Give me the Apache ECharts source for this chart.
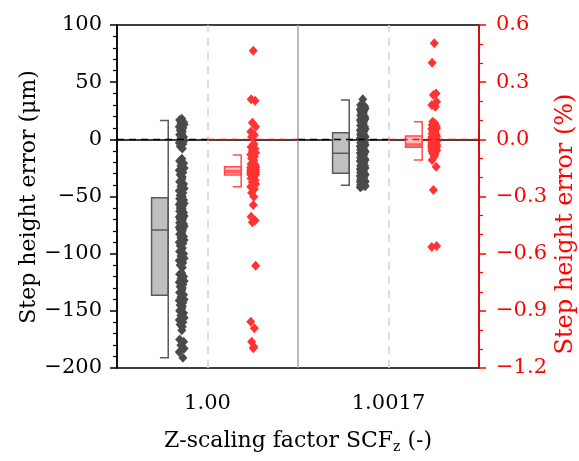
<!DOCTYPE html>
<html>
<head>
<meta charset="utf-8">
<script src="https://cdn.jsdelivr.net/npm/echarts@6/dist/echarts.min.js"></script>
<style>
html, body { margin: 0; padding: 0; background: #fff; }
#chart { width: 579px; height: 461px; }
</style>
</head>
<body>
<div id="chart"></div>
<script>
// categories on the x axis
var categories = ['1.00', '1.0017'];

// box stats: [low whisker, q1, median, q3, high whisker]
var grayBoxUm = [
  [-191, -136.4, -79.3, -51.1, 16.5],
  [-40.1, -29.7, -12.2, 5.8, 34.4]
];
var redBoxPct = [
  [-0.249, -0.187, -0.165, -0.144, -0.082],
  [-0.109, -0.042, -0.025, 0.017, 0.092]
];
var redMeanPct = [-0.175, -0.034];

// individual measurements, step height error in µm
var grayPointsUm = [
  [18, 17, 15, 14, 13, 11, 10, 8, 7, 5, 4, 2, 1, -1, -3, -4, -6, -8,
   -17, -19, -21, -23, -25, -27, -29, -31, -33, -35, -37, -39, -41, -43, -45, -47, -49, -50,
   -51, -52, -53, -55, -56, -57, -58, -60, -61, -62, -63, -64, -66, -67, -68, -69, -70, -71, -72, -73, -74, -75, -76, -77, -78, -79,
   -80, -82, -83, -85, -86, -88, -90, -91, -93, -95, -96, -98, -100, -102, -104, -106, -108, -110, -112,
   -117, -118, -120, -122, -124, -125, -127, -129, -130, -132, -134, -136,
   -138, -140, -141, -143, -145, -146, -148, -150, -152, -154, -156, -158, -160, -162, -164, -167,
   -175, -177, -180, -183, -186, -191],
  [35, 30, 29, 28, 27, 26, 25, 24, 23, 22, 21, 20, 19, 18, 17, 16, 15, 14, 13, 12, 11, 10, 9, 8, 7, 6,
   5, 5, 4, 3, 3, 2, 1, 0, 0, -1, -2, -3, -3, -4, -5, -6, -6, -7, -8, -9, -9, -10, -11, -11, -12,
   -13, -14, -14, -15, -16, -17, -17, -18, -19, -20, -20, -21, -22, -23, -23, -24, -25, -26, -26, -27, -28, -28, -29, -30,
   -31, -31, -32, -33, -33, -34, -35, -35, -36, -36, -37, -37, -38, -38, -39, -39, -40, -40, -41, -41, -42]
];

// individual measurements, step height error in %
var redPointsPct = [
  [0.465, 0.21, 0.203, 0.087, 0.066, 0.04, 0.023, 0.014,
   -0.025, -0.03, -0.04, -0.05, -0.06, -0.07, -0.08, -0.09, -0.1, -0.11, -0.12, -0.13, -0.135, -0.14,
   -0.145, -0.147, -0.149, -0.15, -0.152, -0.154, -0.155, -0.157, -0.158, -0.16, -0.161, -0.163, -0.164, -0.165, -0.166,
   -0.167, -0.169, -0.17, -0.171, -0.173, -0.174, -0.176, -0.177, -0.179, -0.18, -0.181, -0.183, -0.184, -0.185, -0.186,
   -0.19, -0.195, -0.2, -0.205, -0.215, -0.225, -0.235, -0.249, -0.26, -0.28,
   -0.301, -0.345, -0.406, -0.426, -0.435, -0.663, -0.957, -0.992, -1.062, -1.088, -1.097],
  [0.504, 0.402, 0.241, 0.232, 0.197, 0.18, 0.171,
   0.092, 0.085, 0.08, 0.075, 0.07, 0.065, 0.06, 0.055, 0.05, 0.045, 0.04, 0.035, 0.03, 0.025, 0.02,
   0.015, 0.012, 0.008, 0.005, 0.002, 0, -0.003, -0.006, -0.009, -0.012, -0.015, -0.018, -0.021, -0.024,
   -0.026, -0.027, -0.028, -0.029, -0.03, -0.031, -0.032, -0.033, -0.034, -0.035, -0.036, -0.037, -0.038, -0.039, -0.04, -0.041,
   -0.043, -0.046, -0.047, -0.05, -0.052, -0.055, -0.058, -0.06, -0.066, -0.073, -0.08, -0.09, -0.109, -0.144, -0.266, -0.56, -0.565]
];

// tick labels
var leftTicks = [-200, -150, -100, -50, 0, 50, 100];
var rightTicks = [-1.2, -0.9, -0.6, -0.3, 0.0, 0.3, 0.6];

var FONT = 'DejaVu Serif';
var RED = '#ff0000';
// offsets inside a category (in category widths)
var OFF_GRAY_BOX = -0.263, OFF_GRAY_PTS = -0.142, OFF_RED_BOX = 0.14, OFF_RED_PTS = 0.253;
var BOX_W = 0.092;
var jitter = [0, -0.012, 0.01, -0.005, 0.013, -0.014, 0.006, -0.009, 0.003];

function minus(s) { return String(s).replace('-', '\u2212'); }

function boxData(stats, off) {
  return stats.map(function (s, i) { return [i + 0.5 + off].concat(s); });
}
function boxDataMean(stats, means, off) {
  return stats.map(function (s, i) { return [i + 0.5 + off].concat(s).concat([means[i]]); });
}
function pointData(lists, off) {
  var out = [];
  lists.forEach(function (vals, i) {
    vals.forEach(function (v, k) {
      out.push([i + 0.5 + off + jitter[k % jitter.length], v]);
    });
  });
  return out;
}

function makeBoxRenderer(fill, stroke, withMean) {
  return function (params, api) {
    var x = api.value(0);
    var pLow = api.coord([x, api.value(1)]);
    var pQ1 = api.coord([x, api.value(2)]);
    var pMed = api.coord([x, api.value(3)]);
    var pQ3 = api.coord([x, api.value(4)]);
    var pHigh = api.coord([x, api.value(5)]);
    var w = api.size([BOX_W, 0])[0];
    var cx = pLow[0], left = cx - w / 2, right = cx + w / 2;
    var children = [
      { type: 'rect', shape: { x: left, y: pQ3[1], width: w, height: pQ1[1] - pQ3[1] },
        style: { fill: fill, stroke: stroke, lineWidth: 1.5 } },
      { type: 'line', shape: { x1: left, y1: pMed[1], x2: right, y2: pMed[1] },
        style: { stroke: stroke, lineWidth: 1.5 } },
      { type: 'polyline', shape: { points: [[cx, pHigh[1]], [right, pHigh[1]], [right, pLow[1]], [cx, pLow[1]]] },
        style: { fill: 'none', stroke: stroke, lineWidth: 1.5 } }
    ];
    if (withMean) {
      var pMean = api.coord([x, api.value(6)]);
      children.push({ type: 'line', shape: { x1: left, y1: pMean[1], x2: right, y2: pMean[1] },
        style: { stroke: stroke, lineWidth: 1.2 } });
    }
    return { type: 'group', children: children };
  };
}

var dashBlack = { color: '#000', type: [7, 5], width: 1.3 };
var dashRed = { color: RED, type: [7, 5], width: 1.3 };

var option = {
  animation: false,
  grid: { left: 117, right: 100, top: 25, bottom: 93, show: true, borderColor: '#000', borderWidth: 1.5 },
  graphic: [{
    type: 'text',
    x: 29, y: 197,
    rotation: Math.PI / 2,
    style: { text: 'Step height error (\u03bcm)', fontFamily: FONT, fontSize: 22, fill: '#000',
      align: 'center', verticalAlign: 'middle' }
  }, {
    type: 'text',
    x: 566, y: 224,
    rotation: Math.PI / 2,
    style: { text: 'Step height error (%)', fontFamily: FONT, fontSize: 24, fill: RED,
      align: 'center', verticalAlign: 'middle' }
  }],
  xAxis: [{
    type: 'category',
    data: categories,
    boundaryGap: true,
    axisLine: { lineStyle: { color: '#000', width: 1.5 } },
    axisTick: { alignWithLabel: true, length: 7, lineStyle: { color: '#000', width: 1.5 } },
    axisLabel: { fontFamily: FONT, fontSize: 21, color: '#000', margin: 25 },
    splitLine: { show: false },
    name: 'Z-scaling factor SCF{sub|z} (-)',
    nameLocation: 'middle',
    nameGap: 60,
    nameTextStyle: {
      fontFamily: FONT, fontSize: 22, color: '#000',
      rich: { sub: { fontFamily: FONT, fontSize: 14, color: '#000', verticalAlign: 'bottom', padding: [12, 0, 0, 0] } }
    }
  }, {
    type: 'value', min: 0, max: 2, show: false
  }],
  yAxis: [{
    type: 'value',
    min: -200, max: 100, interval: 50,
    position: 'left',
    axisLine: { show: true, lineStyle: { color: '#000', width: 1.5 } },
    axisTick: { show: true, length: 7, lineStyle: { color: '#000', width: 1.5 } },
    minorTick: { show: true, splitNumber: 5, length: 4, lineStyle: { color: '#000', width: 1.2 } },
    axisLabel: { fontFamily: FONT, fontSize: 21, color: '#000', margin: 15,
      formatter: function (v) { return leftTicks.indexOf(v) >= 0 ? minus(v) : ''; } },
    splitLine: { show: false }
  }, {
    type: 'value',
    min: -1.2, max: 0.6, interval: 0.3,
    position: 'right',
    axisLine: { show: true, lineStyle: { color: RED, width: 1.5 } },
    axisTick: { show: true, length: 7, lineStyle: { color: RED, width: 1.5 } },
    minorTick: { show: true, splitNumber: 3, length: 4, lineStyle: { color: RED, width: 1.2 } },
    axisLabel: { fontFamily: FONT, fontSize: 21, color: RED, margin: 17,
      formatter: function (v) {
        var r = Math.round(v * 10) / 10;
        var hit = rightTicks.some(function (t) { return Math.abs(t - r) < 1e-9; });
        return hit ? minus(Math.abs(r) < 1e-9 ? '0.0' : r.toFixed(1)) : '';
      } },
    splitLine: { show: false }
  }],
  series: [{
    name: 'guides',
    type: 'scatter',
    xAxisIndex: 1, yAxisIndex: 0,
    data: [],
    z: 1,
    markLine: {
      silent: true, symbol: 'none', label: { show: false },
      data: [
        { xAxis: 0.5, lineStyle: { color: '#d4d4d4', type: [8, 6], width: 1.5 } },
        { xAxis: 1.5, lineStyle: { color: '#d4d4d4', type: [8, 6], width: 1.5 } },
        { xAxis: 1, lineStyle: { color: '#a6a6a6', type: 'solid', width: 1.5 } },
        [{ coord: [0, 0], lineStyle: dashBlack }, { coord: [0.5, 0] }],
        [{ coord: [1, 0], lineStyle: dashBlack }, { coord: [1.5, 0] }],
        [{ coord: [0.5, 0], lineStyle: dashRed }, { coord: [1, 0] }],
        [{ coord: [1.5, 0], lineStyle: dashRed }, { coord: [2, 0] }]
      ]
    }
  }, {
    name: 'gray box',
    type: 'custom',
    xAxisIndex: 1, yAxisIndex: 0,
    z: 2,
    renderItem: makeBoxRenderer('#c0c0c0', '#5a5a5a', false),
    encode: { x: 0, y: [1, 2, 3, 4, 5] },
    data: boxData(grayBoxUm, OFF_GRAY_BOX)
  }, {
    name: 'red box',
    type: 'custom',
    xAxisIndex: 1, yAxisIndex: 1,
    z: 2,
    renderItem: makeBoxRenderer('#ffbcbc', '#ff4d4d', true),
    encode: { x: 0, y: [1, 2, 3, 4, 5, 6] },
    data: boxDataMean(redBoxPct, redMeanPct, OFF_RED_BOX)
  }, {
    name: 'gray points',
    type: 'scatter',
    xAxisIndex: 1, yAxisIndex: 0,
    z: 3,
    symbol: 'diamond', symbolSize: [9, 10],
    itemStyle: { color: '#4a4a4a', opacity: 1 },
    data: pointData(grayPointsUm, OFF_GRAY_PTS)
  }, {
    name: 'red points',
    type: 'scatter',
    xAxisIndex: 1, yAxisIndex: 1,
    z: 3,
    symbol: 'diamond', symbolSize: [9, 10],
    itemStyle: { color: '#ff3333', opacity: 1 },
    data: pointData(redPointsPct, OFF_RED_PTS)
  }]
};

var chart = echarts.init(document.getElementById('chart'));
chart.setOption(option);
</script>
</body>
</html>
